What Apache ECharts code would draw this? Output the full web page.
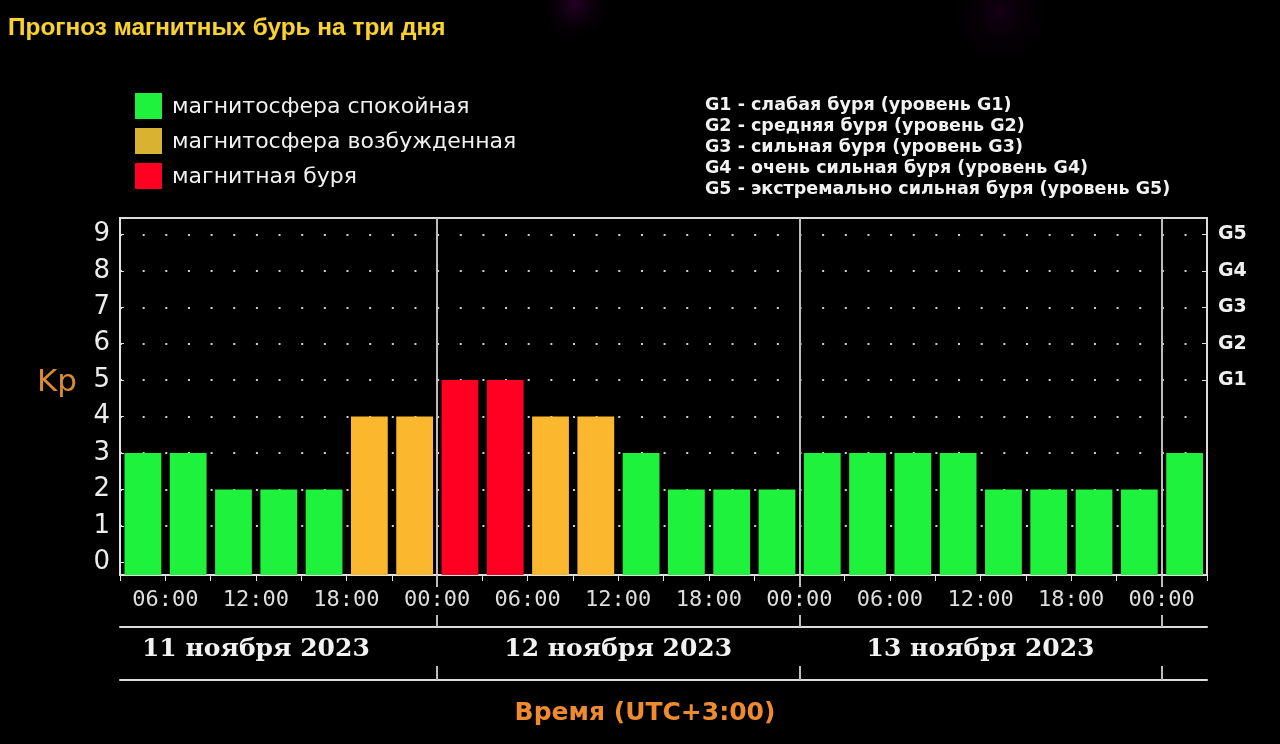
<!DOCTYPE html>
<html>
<head>
<meta charset="utf-8">
<script src="https://cdn.jsdelivr.net/npm/echarts@6/dist/echarts.min.js"></script>
<style>
html,body{margin:0;padding:0;background:#000;}
#chart{width:1280px;height:744px;}
</style>
</head>
<body>
<div id="chart"></div>
<script>
// ---- data ----
const kpValues = [3,3,2,2,2,4,4, 5,5,4,4,3,2,2,2, 3,3,3,3,2,2,2,2, 3];
const timeTickLabels = ['06:00','12:00','18:00','00:00','06:00','12:00','18:00','00:00','06:00','12:00','18:00','00:00'];
const dayLabels = ['11 ноября 2023','12 ноября 2023','13 ноября 2023'];
const daySeparatorSlots = [7,15,23];
const dayCenterSlots = [3,11,19];
const kpTicks = [0,1,2,3,4,5,6,7,8,9];
const gLabels = ['G1','G2','G3','G4','G5'];
const gValues = [5,6,7,8,9];
const legendNames = ['магнитосфера спокойная','магнитосфера возбужденная','магнитная буря'];
const gLegendLines = [
  'G1 - слабая буря (уровень G1)',
  'G2 - средняя буря (уровень G2)',
  'G3 - сильная буря (уровень G3)',
  'G4 - очень сильная буря (уровень G4)',
  'G5 - экстремально сильная буря (уровень G5)'
];

const Y_MIN = -0.35, Y_MAX = 9.45;
const SLOTS = kpValues.length;
const colors = ['#1ef23c', '#fbb82e', '#ff0022'];
const legendColors = ['#1ef23c', '#d9b232', '#ff0022'];

function level(v){ return v >= 5 ? 2 : (v >= 4 ? 1 : 0); }
const seriesData = [[],[],[]];
kpValues.forEach((v,i)=>{ seriesData[level(v)].push([i, v]); });

function renderBar(params, api){
  const x = api.value(0), v = api.value(1);
  const p0 = api.coord([x, Y_MIN]);
  const p1 = api.coord([x + 1, v]);
  const slotW = p1[0] - p0[0];
  return {
    type: 'rect',
    shape: { x: p0[0] + 4.5, y: p1[1], width: slotW - 8.5, height: p0[1] - p1[1] },
    style: { fill: api.visual('color') }
  };
}

const oddSlots = [], allSlots = [];
for (let k = 0; k <= SLOTS; k++){ allSlots.push(k); if (k % 2 === 1) oddSlots.push(k); }

const chart = echarts.init(document.getElementById('chart'), null, {renderer:'canvas'});
const baseX = { type:'value', min:0, max:SLOTS, position:'bottom', gridIndex:0 };
const option = {
  backgroundColor: '#000',
  animation: false,
  grid: { left:120, top:218, right:73, bottom:169, show:true, borderColor:'#dcdcdc', borderWidth:2, backgroundColor:'transparent' },
  legend: {
    orient:'vertical', left:135, top:93, padding:0, itemWidth:27, itemHeight:26, itemGap:9, icon:'rect',
    formatter: name => '{t|' + name + '}',
    textStyle:{ color:'#f0f0f0', fontSize:22, fontFamily:'DejaVu Sans',
      rich:{ t:{ color:'#f0f0f0', fontSize:22, fontFamily:'DejaVu Sans', padding:[3,0,0,5] } } },
    data: legendNames.map((n,i)=>({ name:n, itemStyle:{ color: legendColors[i] } })),
    selectedMode:false
  },
  xAxis: [
    Object.assign({}, baseX, {
      axisLine:{ show:true, onZero:false, lineStyle:{ color:'#e0e0e0', width:2 } },
      axisTick:{ show:true, customValues: allSlots, length:6, lineStyle:{ color:'#e0e0e0', width:1 } },
      axisLabel:{ show:true, customValues: oddSlots, margin:14, color:'#dedede', fontSize:22, fontFamily:'DejaVu Sans Mono',
        formatter: v => timeTickLabels[(v - 1) / 2] || '' },
      splitLine:{ show:false }
    }),
    Object.assign({}, baseX, {
      axisLine:{ show:false, onZero:false },
      axisTick:{ show:true, customValues: daySeparatorSlots, length:12, lineStyle:{ color:'#bdbdbd', width:2 } },
      axisLabel:{ show:false },
      splitLine:{ show:true, lineStyle:{ color:'#bdbdbd', width:2 } }
    }),
    Object.assign({}, baseX, {
      offset:52,
      axisLine:{ show:true, onZero:false, lineStyle:{ color:'#dcdcdc', width:2 } },
      axisTick:{ show:true, inside:true, customValues: daySeparatorSlots, length:12, lineStyle:{ color:'#bdbdbd', width:2 } },
      axisLabel:{ show:true, customValues: dayCenterSlots, margin:10, color:'#f2f2f2', fontSize:25, fontWeight:'bold', fontFamily:'DejaVu Serif',
        formatter: v => dayLabels[dayCenterSlots.indexOf(v)] || '' },
      splitLine:{ show:false }
    }),
    Object.assign({}, baseX, {
      offset:105,
      axisLine:{ show:true, onZero:false, lineStyle:{ color:'#dcdcdc', width:2 } },
      axisTick:{ show:true, inside:true, customValues: daySeparatorSlots, length:14, lineStyle:{ color:'#bdbdbd', width:2 } },
      axisLabel:{ show:false },
      splitLine:{ show:false }
    })
  ],
  yAxis: [
    {
      type:'value', min:Y_MIN, max:Y_MAX, position:'left',
      axisLine:{ show:true, onZero:false, lineStyle:{ color:'#e0e0e0', width:2 } },
      axisTick:{ show:true, inside:true, customValues: kpTicks, length:4, lineStyle:{ color:'#e0e0e0', width:1 } },
      axisLabel:{ show:true, customValues: kpTicks, margin:10, color:'#ececec', fontSize:26, fontFamily:'DejaVu Sans' },
      splitLine:{ show:false }
    },
    {
      type:'value', min:Y_MIN, max:Y_MAX, position:'right',
      axisLine:{ show:false, onZero:false },
      axisTick:{ show:true, inside:true, customValues: gValues, length:5, lineStyle:{ color:'#e0e0e0', width:1 } },
      axisLabel:{ show:true, customValues: gValues, margin:11, color:'#f0f0f0', fontSize:19, fontWeight:'bold', fontFamily:'DejaVu Sans',
        formatter: v => gLabels[gValues.indexOf(v)] || '' },
      splitLine:{ show:false }
    },
    {
      type:'value', min:Y_MIN, max:Y_MAX, position:'left', offset:0,
      axisLine:{ show:false, onZero:false },
      axisTick:{ show:false, customValues: [1,2,3,4,5,6,7,8,9] },
      axisLabel:{ show:false },
      splitLine:{ show:true, lineStyle:{ color:'#cfcfcf', width:2, type:[2, 20.65] } }
    }
  ],
  series: legendNames.map((n,i)=>({
    name:n, type:'custom', xAxisIndex:0, yAxisIndex:0,
    itemStyle:{ color: colors[i] },
    renderItem: renderBar,
    encode:{ x:0, y:1 },
    data: seriesData[i],
    z: 5
  })),
  graphic: [
    { type:'circle', shape:{cx:575, cy:4, r:40}, silent:true, z:-10,
      style:{ fill:{ type:'radial', x:0.5, y:0.5, r:0.5, colorStops:[{offset:0,color:'rgba(70,0,70,0.55)'},{offset:1,color:'rgba(0,0,0,0)'}] } } },
    { type:'circle', shape:{cx:1000, cy:12, r:60}, silent:true, z:-10,
      style:{ fill:{ type:'radial', x:0.5, y:0.5, r:0.5, colorStops:[{offset:0,color:'rgba(40,0,40,0.5)'},{offset:1,color:'rgba(0,0,0,0)'}] } } },
    { type:'text', x:8, y:28, z:10,
      style:{ text:'Прогноз магнитных бурь на три дня', fill:'#f7d230', font:'bold 24.4px "Liberation Sans", Arial, sans-serif',
        verticalAlign:'middle', stroke:'#3a2a00', lineWidth:0.5 } },
    { type:'text', x:705, y:95, z:10,
      style:{ text: gLegendLines.join('\n'), fill:'#f2f2f2', font:'bold 17.5px "DejaVu Sans", sans-serif', lineHeight:21 } },
    { type:'text', x:37, y:383, z:10,
      style:{ text:'Kp', fill:'#d98a34', font:'31px "DejaVu Sans", sans-serif', verticalAlign:'middle' } },
    { type:'text', x:645, y:713, z:10,
      style:{ text:'Время (UTC+3:00)', fill:'#ee8a30', font:'bold 25px "DejaVu Sans", sans-serif', align:'center', verticalAlign:'middle' } }
  ]
};
chart.setOption(option);
</script>
</body>
</html>
